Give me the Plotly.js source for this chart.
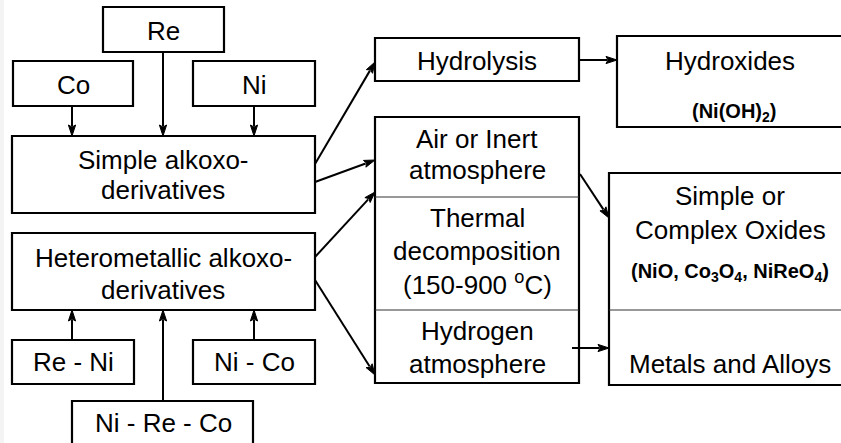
<!DOCTYPE html>
<html><head><meta charset="utf-8">
<script src="https://cdn.plot.ly/plotly-3.0.1.min.js"></script>
<style>html,body{margin:0;padding:0;background:#fff;overflow:hidden}</style>
</head><body><div id="chart" style="width:841px;height:443px"></div>
<script>
// ---- Flowchart content (labels only) ----
const elementLabels = ['Re', 'Co', 'Ni'];
const alloyLabels = ['Re - Ni', 'Ni - Co', 'Ni - Re - Co'];
const precursorLabels = [['Simple alkoxo-', 'derivatives'], ['Heterometallic alkoxo-', 'derivatives']];
const processLabels = [['Hydrolysis'], ['Air or Inert', 'atmosphere'], ['Thermal', 'decomposition', '(150-900 <sup>o</sup>C)'], ['Hydrogen', 'atmosphere']];
const productLabels = [['Hydroxides'], ['Simple or', 'Complex Oxides'], ['Metals and Alloys']];
const productFormulas = ['(Ni(OH)<sub>2</sub>)', '(NiO, Co<sub>3</sub>O<sub>4</sub>, NiReO<sub>4</sub>)'];

// ---- Layout geometry (pixel-like axis units) ----
const geom = {
  elementBoxes: [[103, 7, 224, 52], [13, 61, 133, 106], [193, 61, 315, 106]],
  elementText: [[163, 31], [73, 85], [254, 85]],
  alloyBoxes: [[12, 340, 134, 384], [193, 340, 315, 384], [72, 401, 253, 470]],
  alloyText: [[73, 362], [254, 362], [163, 423]],
  precursorBoxes: [[12, 136, 315, 213], [12, 233, 315, 310]],
  precursorText: [[163, [160, 190]], [163, [258, 290]]],
  processBoxes: [[375, 38, 579, 81], [375, 117, 579, 383]],
  processDividers: [197, 310],
  processText: [[477, [61]], [477, [139, 170]], [477, [218, 251, 283]], [477, [331, 364]]],
  productBoxes: [[617, 36, 860, 127], [609, 173, 860, 385]],
  productDividers: [310],
  productText: [[730, [61]], [730, [196, 229.5]], [730, [364]]],
  formulaText: [[734, 112], [730, 272]],
  arrows: [
    [72, 107, 72, 136], [163, 52, 163, 136], [254, 107, 254, 136],
    [72, 340, 72, 310], [163, 401, 163, 310], [254, 340, 254, 310],
    [315, 164, 375, 62], [315, 182, 375, 160], [315, 257, 375, 192], [315, 280, 375, 375],
    [579, 60, 617, 60], [580, 174, 609, 218], [572, 348, 609, 348]
  ]
};

const FONT = 'Liberation Sans, Arial, Helvetica, sans-serif';
const MAIN_SIZE = 26;
const FORMULA_SIZE = 20;
const HEAD_LEN = 11, HEAD_HALF = 3.6;
const shapes = [];
const annotations = [];

shapes.push({type: 'rect', xref: 'x', yref: 'y', x0: 0, x1: 4, y0: 0, y1: 443,
  line: {width: 0}, fillcolor: '#f4f4f4', layer: 'below'});

function box(b) {
  shapes.push({type: 'rect', xref: 'x', yref: 'y', x0: b[0], y0: b[1], x1: b[2], y1: b[3],
    line: {color: '#000', width: 2.2}, fillcolor: 'rgba(0,0,0,0)'});
}
function hline(x0, x1, y) {
  shapes.push({type: 'line', xref: 'x', yref: 'y', x0: x0, x1: x1, y0: y, y1: y,
    line: {color: '#333', width: 1.2}});
}
function label(text, x, y, size, bold) {
  annotations.push({xref: 'x', yref: 'y', x: x, y: y, text: bold ? '<b>' + text + '</b>' : text,
    showarrow: false, xanchor: 'center', yanchor: 'middle',
    font: {family: FONT, size: size, color: '#000'}});
}
function arrow(a) {
  const [x0, y0, x1, y1] = a;
  const dx = x1 - x0, dy = y1 - y0, L = Math.hypot(dx, dy);
  const ux = dx / L, uy = dy / L, px = -uy, py = ux;
  const bx = x1 - ux * HEAD_LEN, by = y1 - uy * HEAD_LEN;
  shapes.push({type: 'line', xref: 'x', yref: 'y', x0: x0, y0: y0, x1: bx + ux, y1: by + uy,
    line: {color: '#000', width: 2}});
  shapes.push({type: 'path', xref: 'x', yref: 'y',
    path: `M${x1},${y1} L${bx + px * HEAD_HALF},${by + py * HEAD_HALF} L${bx + ux * 2},${by + uy * 2} L${bx - px * HEAD_HALF},${by - py * HEAD_HALF} Z`,
    line: {color: '#000', width: 1}, fillcolor: '#000'});
}

geom.elementBoxes.forEach(box);
elementLabels.forEach((t, i) => label(t, geom.elementText[i][0], geom.elementText[i][1], MAIN_SIZE));
geom.alloyBoxes.forEach(box);
alloyLabels.forEach((t, i) => label(t, geom.alloyText[i][0], geom.alloyText[i][1], MAIN_SIZE));
geom.precursorBoxes.forEach(box);
precursorLabels.forEach((lines, i) => lines.forEach((t, j) =>
  label(t, geom.precursorText[i][0], geom.precursorText[i][1][j], MAIN_SIZE)));
geom.processBoxes.forEach(box);
geom.processDividers.forEach(y => hline(375, 579, y));
processLabels.forEach((lines, i) => lines.forEach((t, j) =>
  label(t, geom.processText[i][0], geom.processText[i][1][j], MAIN_SIZE)));
geom.productBoxes.forEach(box);
geom.productDividers.forEach(y => hline(609, 860, y));
productLabels.forEach((lines, i) => lines.forEach((t, j) =>
  label(t, geom.productText[i][0], geom.productText[i][1][j], MAIN_SIZE)));
productFormulas.forEach((t, i) => label(t, geom.formulaText[i][0], geom.formulaText[i][1], FORMULA_SIZE, true));
geom.arrows.forEach(arrow);

const layout = {
  width: 841, height: 443,
  margin: {l: 0, r: 0, t: 0, b: 0, pad: 0},
  paper_bgcolor: '#fff', plot_bgcolor: '#fff',
  showlegend: false, hovermode: false,
  xaxis: {range: [0, 841], visible: false, showgrid: false, zeroline: false, fixedrange: true},
  yaxis: {range: [443, 0], visible: false, showgrid: false, zeroline: false, fixedrange: true},
  shapes: shapes,
  annotations: annotations
};

Plotly.newPlot('chart', [], layout, {staticPlot: true, displayModeBar: false});
</script></body></html>
